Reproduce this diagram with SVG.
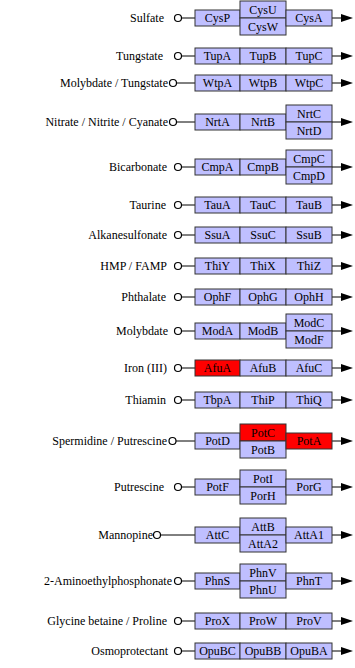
<svg xmlns="http://www.w3.org/2000/svg" width="355" height="668" viewBox="0 0 355 668">
<defs>
<style>
text{font-family:"Liberation Serif","Times New Roman",serif;font-size:12px;fill:#000}
.lab{text-anchor:end}
.b text{text-anchor:middle}
.b rect{fill:#bfbfff;stroke:#333;stroke-width:1}
.b rect.r{fill:#ff0000}
.c line{stroke:#000;stroke-width:1}
.c circle{fill:#fff;stroke:#000;stroke-width:1.2}
.c path{fill:#000}
</style>
</defs>
<rect width="355" height="668" fill="#fff"/>
<g id="connectors" class="c">
<line x1="181.5" y1="18" x2="195" y2="18"/><circle cx="178" cy="18" r="3.5"/><line x1="332" y1="18" x2="343" y2="18"/><path d="M341 14L353 18L341 22Z"/>
<line x1="181.5" y1="56" x2="195" y2="56"/><circle cx="178" cy="56" r="3.5"/><line x1="332" y1="56" x2="343" y2="56"/><path d="M341 52L353 56L341 60Z"/>
<line x1="176.5" y1="83" x2="195" y2="83"/><circle cx="173" cy="83" r="3.5"/><line x1="332" y1="83" x2="343" y2="83"/><path d="M341 79L353 83L341 87Z"/>
<line x1="176.5" y1="122" x2="195" y2="122"/><circle cx="173" cy="122" r="3.5"/><line x1="332" y1="122" x2="343" y2="122"/><path d="M341 118L353 122L341 126Z"/>
<line x1="181.5" y1="167" x2="195" y2="167"/><circle cx="178" cy="167" r="3.5"/><line x1="332" y1="167" x2="343" y2="167"/><path d="M341 163L353 167L341 171Z"/>
<line x1="181.5" y1="205" x2="195" y2="205"/><circle cx="178" cy="205" r="3.5"/><line x1="332" y1="205" x2="343" y2="205"/><path d="M341 201L353 205L341 209Z"/>
<line x1="181.5" y1="235" x2="195" y2="235"/><circle cx="178" cy="235" r="3.5"/><line x1="332" y1="235" x2="343" y2="235"/><path d="M341 231L353 235L341 239Z"/>
<line x1="181.5" y1="266" x2="195" y2="266"/><circle cx="178" cy="266" r="3.5"/><line x1="332" y1="266" x2="343" y2="266"/><path d="M341 262L353 266L341 270Z"/>
<line x1="181.5" y1="297" x2="195" y2="297"/><circle cx="178" cy="297" r="3.5"/><line x1="332" y1="297" x2="343" y2="297"/><path d="M341 293L353 297L341 301Z"/>
<line x1="181.5" y1="331" x2="195" y2="331"/><circle cx="178" cy="331" r="3.5"/><line x1="332" y1="331" x2="343" y2="331"/><path d="M341 327L353 331L341 335Z"/>
<line x1="181.5" y1="368" x2="195" y2="368"/><circle cx="178" cy="368" r="3.5"/><line x1="332" y1="368" x2="343" y2="368"/><path d="M341 364L353 368L341 372Z"/>
<line x1="181.5" y1="400" x2="195" y2="400"/><circle cx="178" cy="400" r="3.5"/><line x1="332" y1="400" x2="343" y2="400"/><path d="M341 396L353 400L341 404Z"/>
<line x1="176" y1="441" x2="195" y2="441"/><circle cx="172.5" cy="441" r="3.5"/><line x1="332" y1="441" x2="343" y2="441"/><path d="M341 437L353 441L341 445Z"/>
<line x1="181.5" y1="487" x2="195" y2="487"/><circle cx="178" cy="487" r="3.5"/><line x1="332" y1="487" x2="343" y2="487"/><path d="M341 483L353 487L341 491Z"/>
<line x1="160.5" y1="535" x2="195" y2="535"/><circle cx="157" cy="535" r="3.5"/><line x1="332" y1="535" x2="343" y2="535"/><path d="M341 531L353 535L341 539Z"/>
<line x1="181.5" y1="581" x2="195" y2="581"/><circle cx="178" cy="581" r="3.5"/><line x1="332" y1="581" x2="343" y2="581"/><path d="M341 577L353 581L341 585Z"/>
<line x1="181.5" y1="621" x2="195" y2="621"/><circle cx="178" cy="621" r="3.5"/><line x1="332" y1="621" x2="343" y2="621"/><path d="M341 617L353 621L341 625Z"/>
<line x1="181.5" y1="651" x2="195" y2="651"/><circle cx="178" cy="651" r="3.5"/><line x1="332" y1="651" x2="343" y2="651"/><path d="M341 647L353 651L341 655Z"/>
</g>

<g id="sulfate" class="b">
<text class="lab" x="164" y="22" style="text-anchor:end">Sulfate</text>
<rect x="195" y="10" width="45" height="16"/><text x="217.5" y="22">CysP</text>
<rect x="240" y="1" width="46" height="17"/><text x="263" y="13.5">CysU</text>
<rect x="240" y="18" width="46" height="17"/><text x="263" y="30.5">CysW</text>
<rect x="286" y="10" width="46" height="16"/><text x="309" y="22">CysA</text>
</g>

<g id="tungstate" class="b">
<text x="163" y="60" style="text-anchor:end">Tungstate</text>
<rect x="195" y="48" width="45" height="16"/><text x="217.5" y="60">TupA</text>
<rect x="240" y="48" width="46" height="16"/><text x="263" y="60">TupB</text>
<rect x="286" y="48" width="46" height="16"/><text x="309" y="60">TupC</text>
</g>

<g id="molybdate_tungstate" class="b">
<text x="168" y="87" style="text-anchor:end">Molybdate / Tungstate</text>
<rect x="195" y="75" width="45" height="16"/><text x="217.5" y="87">WtpA</text>
<rect x="240" y="75" width="46" height="16"/><text x="263" y="87">WtpB</text>
<rect x="286" y="75" width="46" height="16"/><text x="309" y="87">WtpC</text>
</g>

<g id="nitrate" class="b">
<text x="168" y="126" style="text-anchor:end">Nitrate / Nitrite / Cyanate</text>
<rect x="195" y="114" width="45" height="16"/><text x="217.5" y="126">NrtA</text>
<rect x="240" y="114" width="46" height="16"/><text x="263" y="126">NrtB</text>
<rect x="286" y="105" width="46" height="17"/><text x="309" y="117.5">NrtC</text>
<rect x="286" y="122" width="46" height="17"/><text x="309" y="134.5">NrtD</text>
</g>

<g id="bicarbonate" class="b">
<text x="167" y="171" style="text-anchor:end">Bicarbonate</text>
<rect x="195" y="159" width="45" height="16"/><text x="217.5" y="171">CmpA</text>
<rect x="240" y="159" width="46" height="16"/><text x="263" y="171">CmpB</text>
<rect x="286" y="150" width="46" height="17"/><text x="309" y="162.5">CmpC</text>
<rect x="286" y="167" width="46" height="17"/><text x="309" y="179.5">CmpD</text>
</g>

<g id="taurine" class="b">
<text x="166" y="209" style="text-anchor:end">Taurine</text>
<rect x="195" y="197" width="45" height="16"/><text x="217.5" y="209">TauA</text>
<rect x="240" y="197" width="46" height="16"/><text x="263" y="209">TauC</text>
<rect x="286" y="197" width="46" height="16"/><text x="309" y="209">TauB</text>
</g>

<g id="alkanesulfonate" class="b">
<text x="167" y="239" style="text-anchor:end">Alkanesulfonate</text>
<rect x="195" y="227" width="45" height="16"/><text x="217.5" y="239">SsuA</text>
<rect x="240" y="227" width="46" height="16"/><text x="263" y="239">SsuC</text>
<rect x="286" y="227" width="46" height="16"/><text x="309" y="239">SsuB</text>
</g>

<g id="hmp_famp" class="b">
<text x="167" y="270" style="text-anchor:end">HMP / FAMP</text>
<rect x="195" y="258" width="45" height="16"/><text x="217.5" y="270">ThiY</text>
<rect x="240" y="258" width="46" height="16"/><text x="263" y="270">ThiX</text>
<rect x="286" y="258" width="46" height="16"/><text x="309" y="270">ThiZ</text>
</g>

<g id="phthalate" class="b">
<text x="166" y="301" style="text-anchor:end">Phthalate</text>
<rect x="195" y="289" width="45" height="16"/><text x="217.5" y="301">OphF</text>
<rect x="240" y="289" width="46" height="16"/><text x="263" y="301">OphG</text>
<rect x="286" y="289" width="46" height="16"/><text x="309" y="301">OphH</text>
</g>

<g id="molybdate" class="b">
<text x="168" y="335" style="text-anchor:end">Molybdate</text>
<rect x="195" y="323" width="45" height="16"/><text x="217.5" y="335">ModA</text>
<rect x="240" y="323" width="46" height="16"/><text x="263" y="335">ModB</text>
<rect x="286" y="314" width="46" height="17"/><text x="309" y="326.5">ModC</text>
<rect x="286" y="331" width="46" height="17"/><text x="309" y="343.5">ModF</text>
</g>

<g id="iron" class="b">
<text x="167" y="372" style="text-anchor:end">Iron (III)</text>
<rect class="r" x="195" y="360" width="45" height="16"/><text x="217.5" y="372">AfuA</text>
<rect x="240" y="360" width="46" height="16"/><text x="263" y="372">AfuB</text>
<rect x="286" y="360" width="46" height="16"/><text x="309" y="372">AfuC</text>
</g>

<g id="thiamin" class="b">
<text x="166" y="404" style="text-anchor:end">Thiamin</text>
<rect x="195" y="392" width="45" height="16"/><text x="217.5" y="404">TbpA</text>
<rect x="240" y="392" width="46" height="16"/><text x="263" y="404">ThiP</text>
<rect x="286" y="392" width="46" height="16"/><text x="309" y="404">ThiQ</text>
</g>

<g id="spermidine_putrescine" class="b">
<text x="167" y="445" style="text-anchor:end">Spermidine / Putrescine</text>
<rect x="195" y="433" width="45" height="16"/><text x="217.5" y="445">PotD</text>
<rect class="r" x="240" y="424" width="46" height="17"/><text x="263" y="436.5">PotC</text>
<rect x="240" y="441" width="46" height="17"/><text x="263" y="453.5">PotB</text>
<rect class="r" x="286" y="433" width="46" height="16"/><text x="309" y="445">PotA</text>
</g>

<g id="putrescine" class="b">
<text x="164" y="491" style="text-anchor:end">Putrescine</text>
<rect x="195" y="479" width="45" height="16"/><text x="217.5" y="491">PotF</text>
<rect x="240" y="470" width="46" height="17"/><text x="263" y="482.5">PotI</text>
<rect x="240" y="487" width="46" height="17"/><text x="263" y="499.5">PorH</text>
<rect x="286" y="479" width="46" height="16"/><text x="309" y="491">PorG</text>
</g>

<g id="mannopine" class="b">
<text x="153" y="539" style="text-anchor:end">Mannopine</text>
<rect x="195" y="527" width="45" height="16"/><text x="217.5" y="539">AttC</text>
<rect x="240" y="518" width="46" height="17"/><text x="263" y="530.5">AttB</text>
<rect x="240" y="535" width="46" height="17"/><text x="263" y="547.5">AttA2</text>
<rect x="286" y="527" width="46" height="16"/><text x="309" y="539">AttA1</text>
</g>

<g id="aminoethylphosphonate" class="b">
<text x="172" y="585" style="text-anchor:end">2-Aminoethylphosphonate</text>
<rect x="195" y="573" width="45" height="16"/><text x="217.5" y="585">PhnS</text>
<rect x="240" y="564" width="46" height="17"/><text x="263" y="576.5">PhnV</text>
<rect x="240" y="581" width="46" height="17"/><text x="263" y="593.5">PhnU</text>
<rect x="286" y="573" width="46" height="16"/><text x="309" y="585">PhnT</text>
</g>

<g id="glycine_betaine_proline" class="b">
<text x="167" y="625" style="text-anchor:end">Glycine betaine / Proline</text>
<rect x="195" y="613" width="45" height="16"/><text x="217.5" y="625">ProX</text>
<rect x="240" y="613" width="46" height="16"/><text x="263" y="625">ProW</text>
<rect x="286" y="613" width="46" height="16"/><text x="309" y="625">ProV</text>
</g>

<g id="osmoprotectant" class="b">
<text x="168" y="655" style="text-anchor:end">Osmoprotectant</text>
<rect x="195" y="643" width="45" height="16"/><text x="217.5" y="655">OpuBC</text>
<rect x="240" y="643" width="46" height="16"/><text x="263" y="655">OpuBB</text>
<rect x="286" y="643" width="46" height="16"/><text x="309" y="655">OpuBA</text>
</g>
</svg>
